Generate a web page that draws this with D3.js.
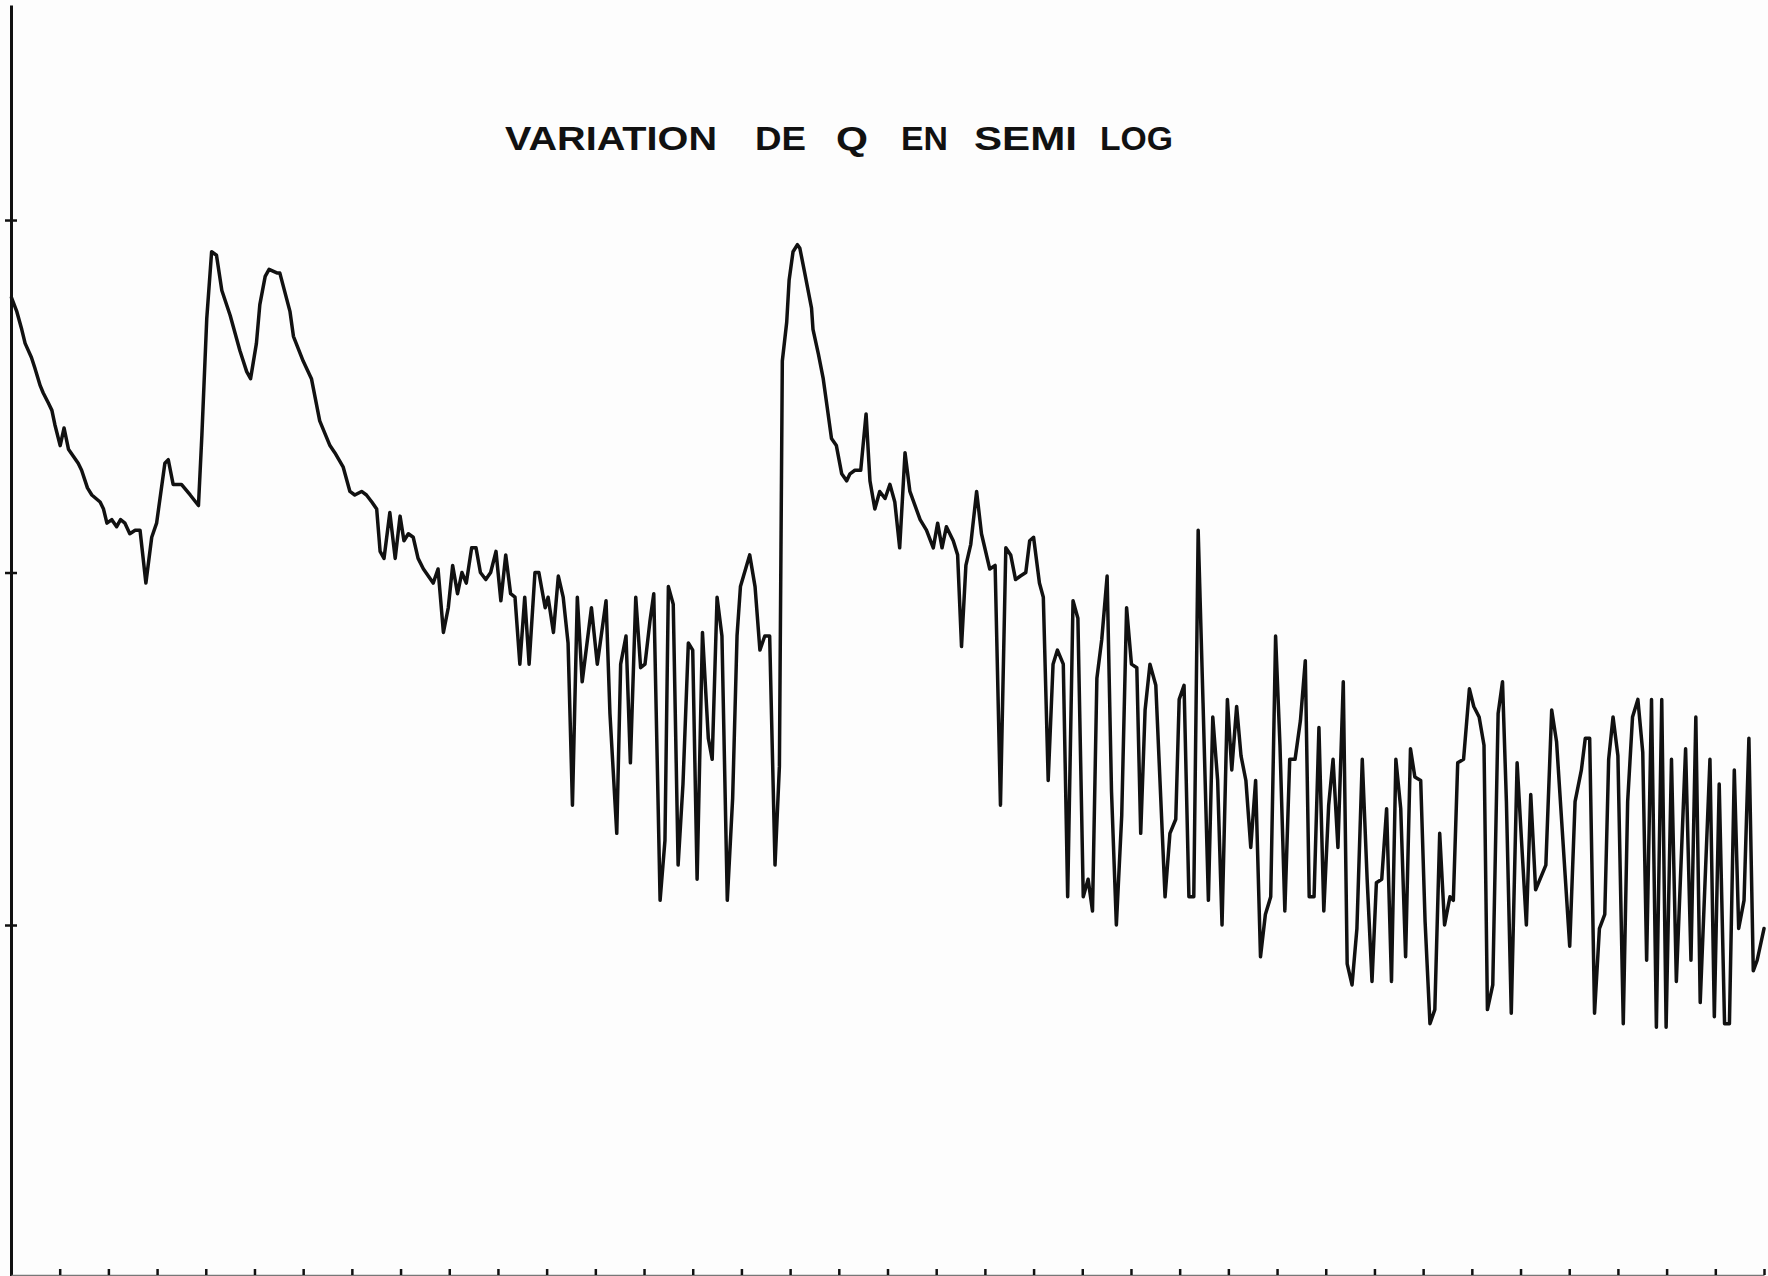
<!DOCTYPE html>
<html>
<head>
<meta charset="utf-8">
<script src="https://cdn.jsdelivr.net/npm/d3@7"></script>
<style>
  html, body { margin: 0; padding: 0; background: #fdfdfd; }
  svg { display: block; }
</style>
</head>
<body>
<svg id="chart" width="1768" height="1276"></svg>
<script>
// ---- data -------------------------------------------------------------
const titleWords = ["VARIATION", "DE", "Q", "EN", "SEMI", "LOG"];

// abscissa: sample number (10 samples between two ticks of the bottom axis)
const sampleIdx = [
  0.1, 1.2, 2.2, 2.9, 4.2, 4.9, 6.0, 6.6, 7.7, 8.4,
  9.0, 10.1, 10.9, 11.8, 12.8, 13.8, 14.5, 15.7, 16.6, 18.3,
  19.0, 19.7, 20.7, 21.7, 22.5, 23.4, 24.4, 25.5, 26.5, 27.7,
  28.9, 29.9, 31.6, 32.3, 33.3, 35.0, 36.8, 38.5, 39.2, 40.2,
  41.2, 42.2, 43.3, 45.0, 47.0, 48.4, 49.2, 50.4, 51.1, 52.2,
  53.0, 54.6, 55.2, 57.3, 58.0, 60.0, 61.7, 63.4, 65.5, 66.5,
  68.2, 69.6, 70.6, 72.0, 73.0, 74.1, 75.1, 75.8, 76.6, 77.8,
  78.9, 79.9, 80.7, 81.6, 82.6, 83.6, 84.7, 86.7, 87.7, 88.8,
  89.8, 90.7, 91.7, 92.6, 93.5, 94.6, 95.5, 96.4, 97.5, 98.5,
  99.6, 100.6, 101.6, 102.6, 103.5, 104.5, 105.5, 106.4, 107.6, 108.4,
  109.7, 110.3, 111.4, 112.4, 113.4, 114.4, 115.3, 116.3, 117.3, 119.2,
  120.4, 122.2, 123.0, 124.4, 125.2, 126.3, 127.2, 128.3, 129.3, 130.2,
  131.2, 132.0, 133.3, 134.3, 135.0, 136.0, 137.0, 138.0, 139.1, 140.0,
  140.9, 142.0, 143.2, 144.0, 145.0, 146.0, 147.1, 148.2, 149.1, 149.8,
  151.7, 152.8, 153.8, 154.8, 155.8, 156.9, 157.8, 158.4, 159.3, 159.8,
  160.6, 161.5, 162.0, 163.0, 164.4, 164.7, 165.8, 166.8, 167.5, 168.5,
  169.5, 170.6, 171.6, 172.3, 173.3, 174.5, 175.6, 176.4, 177.4, 178.4,
  179.5, 180.5, 181.5, 182.5, 183.6, 184.6, 186.7, 188.0, 189.4, 190.3,
  191.2, 192.1, 193.5, 194.4, 195.2, 196.1, 197.1, 198.3, 199.3, 201.0,
  202.1, 203.2, 204.3, 205.3, 206.3, 207.3, 208.4, 209.2, 210.0, 211.2,
  212.0, 213.0, 214.0, 214.9, 216.1, 217.0, 218.1, 219.1, 220.2, 221.2,
  222.1, 223.0, 224.0, 225.1, 226.0, 227.0, 228.1, 229.1, 230.1, 231.2,
  232.0, 232.9, 233.9, 235.1, 237.0, 238.0, 239.2, 239.9, 240.9, 241.9,
  242.9, 243.8, 244.8, 245.9, 246.8, 247.8, 248.7, 249.8, 250.7, 251.7,
  252.6, 253.6, 254.6, 255.6, 256.6, 257.6, 258.7, 259.7, 260.6, 261.6,
  262.6, 263.7, 264.8, 265.8, 266.6, 267.6, 268.6, 269.6, 270.6, 271.5,
  272.5, 273.6, 274.4, 275.4, 276.4, 277.5, 278.5, 279.5, 280.4, 281.5,
  282.5, 283.5, 284.4, 285.4, 286.4, 287.4, 288.3, 289.5, 290.4, 291.4,
  292.4, 293.4, 294.4, 295.5, 296.2, 297.1, 298.3, 299.5, 300.4, 301.5,
  302.5, 303.2, 304.3, 305.4, 306.3, 307.1, 308.1, 309.3, 310.2, 311.2,
  312.1, 313.1, 315.2, 316.4, 317.4, 320.1, 321.2, 322.5, 323.3, 324.2,
  325.2, 326.2, 327.3, 328.1, 329.0, 330.0, 331.1, 332.0, 333.0, 334.1,
  335.1, 335.9, 336.9, 337.9, 339.0, 339.9, 341.0, 342.0, 343.9, 345.0,
  346.0, 346.9, 348.9, 349.8, 350.8, 351.9, 352.9, 353.9, 354.8, 355.9,
  356.9, 357.8, 358.6, 360.0
];

// ordinate: log10 Q (one decade between two ticks of the vertical axis)
const logQ = [
  2.78, 2.74, 2.69, 2.65, 2.61, 2.58, 2.53, 2.51, 2.48, 2.46,
  2.42, 2.36, 2.41, 2.35, 2.33, 2.31, 2.29, 2.24, 2.22, 2.20,
  2.18, 2.14, 2.15, 2.13, 2.15, 2.14, 2.11, 2.12, 2.12, 1.97,
  2.10, 2.14, 2.31, 2.32, 2.25, 2.25, 2.22, 2.19, 2.39, 2.72,
  2.91, 2.90, 2.80, 2.73, 2.63, 2.57, 2.55, 2.65, 2.76, 2.84,
  2.86, 2.85, 2.85, 2.74, 2.67, 2.60, 2.55, 2.43, 2.36, 2.34,
  2.30, 2.23, 2.22, 2.23, 2.22, 2.20, 2.18, 2.06, 2.04, 2.17,
  2.04, 2.16, 2.09, 2.11, 2.10, 2.04, 2.01, 1.97, 2.01, 1.83,
  1.90, 2.02, 1.94, 2.00, 1.97, 2.07, 2.07, 2.00, 1.98, 2.00,
  2.06, 1.92, 2.05, 1.94, 1.93, 1.74, 1.93, 1.74, 2.00, 2.00,
  1.90, 1.93, 1.83, 1.99, 1.93, 1.80, 1.34, 1.93, 1.69, 1.90,
  1.74, 1.92, 1.60, 1.26, 1.74, 1.82, 1.46, 1.93, 1.73, 1.74,
  1.86, 1.94, 1.07, 1.24, 1.96, 1.91, 1.17, 1.40, 1.80, 1.78,
  1.13, 1.83, 1.53, 1.47, 1.93, 1.82, 1.07, 1.36, 1.82, 1.96,
  2.05, 1.96, 1.78, 1.82, 1.82, 1.17, 1.45, 2.60, 2.71, 2.83,
  2.91, 2.93, 2.92, 2.85, 2.75, 2.69, 2.62, 2.55, 2.48, 2.38,
  2.36, 2.28, 2.26, 2.28, 2.29, 2.29, 2.45, 2.26, 2.18, 2.23,
  2.21, 2.25, 2.20, 2.07, 2.34, 2.23, 2.15, 2.12, 2.07, 2.14,
  2.07, 2.13, 2.09, 2.05, 1.79, 2.02, 2.08, 2.23, 2.11, 2.01,
  2.02, 1.34, 2.07, 2.05, 1.98, 1.99, 2.00, 2.09, 2.10, 1.97,
  1.93, 1.41, 1.74, 1.78, 1.74, 1.08, 1.92, 1.87, 1.08, 1.13,
  1.04, 1.70, 1.81, 1.99, 1.38, 1.00, 1.31, 1.90, 1.74, 1.73,
  1.26, 1.61, 1.74, 1.68, 1.08, 1.26, 1.30, 1.64, 1.68, 1.08,
  1.08, 2.12, 1.63, 1.07, 1.59, 1.41, 1.00, 1.64, 1.44, 1.62,
  1.48, 1.41, 1.22, 1.41, 0.91, 1.03, 1.08, 1.82, 1.51, 1.04,
  1.47, 1.47, 1.58, 1.75, 1.08, 1.08, 1.56, 1.04, 1.34, 1.47,
  1.22, 1.69, 0.89, 0.83, 0.99, 1.47, 1.13, 0.84, 1.12, 1.13,
  1.33, 0.84, 1.47, 1.33, 0.91, 1.50, 1.42, 1.41, 1.01, 0.72,
  0.76, 1.26, 1.00, 1.08, 1.07, 1.46, 1.47, 1.67, 1.62, 1.59,
  1.51, 0.76, 0.83, 1.60, 1.69, 1.35, 0.75, 1.46, 1.24, 1.00,
  1.37, 1.10, 1.17, 1.61, 1.52, 0.94, 1.35, 1.44, 1.53, 1.53,
  0.75, 0.99, 1.03, 1.47, 1.59, 1.48, 0.72, 1.35, 1.59, 1.64,
  1.49, 0.90, 1.64, 0.71, 1.64, 0.71, 1.47, 0.84, 1.50, 0.90,
  1.59, 0.78, 1.47, 0.74, 1.40, 0.72, 0.72, 1.44, 0.99, 1.07,
  1.53, 0.87, 0.90, 0.99
];

const decadeTicks = [1, 2, 3];
const sampleTicks = d3.range(10, 361, 10);

// ---- layout -----------------------------------------------------------
const W = 1768, H = 1276;
const svg = d3.select("#chart").attr("viewBox", `0 0 ${W} ${H}`);

const x = d3.scaleLinear().domain([0, 360]).range([11, 1764]);
const y = d3.scaleLinear().domain([0, 3.61]).range([1277.5, 5]);

if (sampleIdx.length !== logQ.length) console.error("length mismatch", sampleIdx.length, logQ.length);

// ---- title ------------------------------------------------------------
const titleX = [505, 755, 836, 901, 974, 1100];
const titleLen = [212, 51, 32, 47, 103, 73];
svg.append("g")
  .attr("font-family", "'Liberation Sans', Arial, sans-serif")
  .attr("font-weight", "bold")
  .attr("font-size", 33)
  .attr("fill", "#111")
  .selectAll("text")
  .data(titleWords)
  .join("text")
  .attr("x", (d, i) => titleX[i])
  .attr("y", 150)
  .attr("textLength", (d, i) => titleLen[i])
  .attr("lengthAdjust", "spacingAndGlyphs")
  .text(d => d);

// ---- axes -------------------------------------------------------------
const yAxis = svg.append("g")
  .attr("transform", `translate(${x(0)},0)`)
  .call(d3.axisLeft(y).tickValues(decadeTicks).tickSize(6).tickSizeOuter(0).tickFormat(""));
yAxis.select(".domain").attr("stroke", "#111").attr("stroke-width", 3);
yAxis.selectAll(".tick line").attr("x1", 6).attr("stroke", "#111").attr("stroke-width", 2.5);

const xAxis = svg.append("g")
  .attr("transform", `translate(0,${H - 1})`)
  .call(d3.axisTop(x).tickValues(sampleTicks).tickSize(6).tickSizeOuter(0).tickFormat(""));
xAxis.select(".domain").attr("stroke", "#777").attr("stroke-width", 1.5);
xAxis.selectAll(".tick line").attr("stroke", "#111").attr("stroke-width", 2.5);

// ---- curve ------------------------------------------------------------
const points = sampleIdx.map((s, i) => ({ s, v: logQ[i] }));
const line = d3.line().x(d => x(d.s)).y(d => y(d.v));

svg.append("path")
  .datum(points)
  .attr("d", line)
  .attr("fill", "none")
  .attr("stroke", "#111")
  .attr("stroke-width", 3.5)
  .attr("stroke-linejoin", "round")
  .attr("stroke-linecap", "round");
</script>
</body>
</html>
